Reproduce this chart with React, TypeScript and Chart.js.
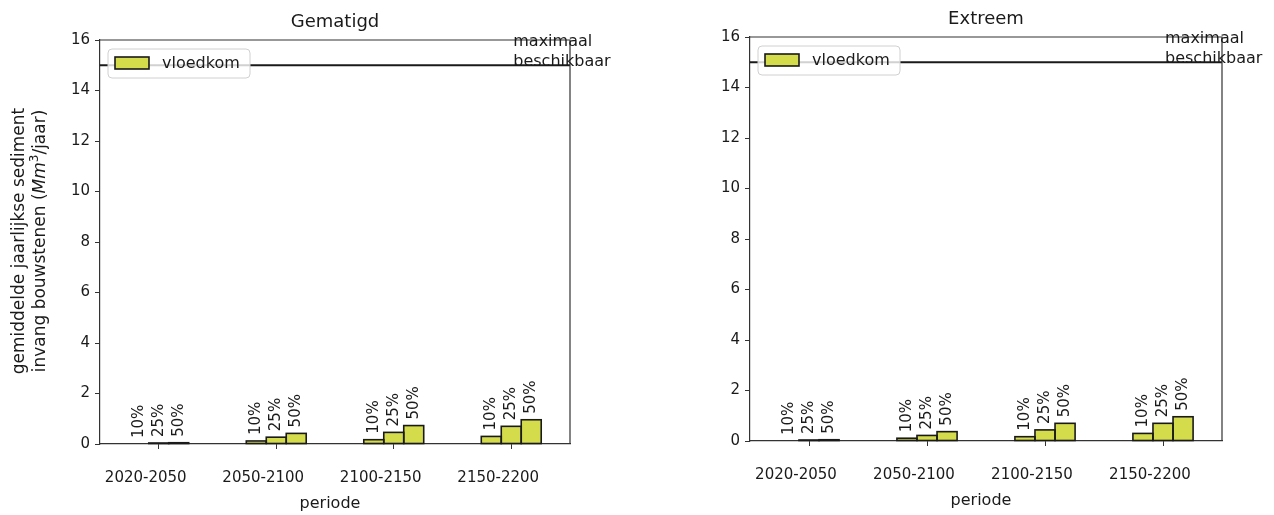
import React, { useEffect, useRef } from "react";
import { Chart, registerables } from "chart.js";

Chart.register(...registerables);

// ---- data ----
const categories = ["2020-2050", "2050-2100", "2100-2150", "2150-2200"];
const quantileLabels = ["10%", "25%", "50%"];
const gematigd10 = [0, 0.12, 0.17, 0.3];
const gematigd25 = [0.04, 0.27, 0.46, 0.7];
const gematigd50 = [0.05, 0.42, 0.73, 0.96];
const extreem10 = [0, 0.11, 0.17, 0.3];
const extreem25 = [0.04, 0.22, 0.44, 0.7];
const extreem50 = [0.05, 0.37, 0.7, 0.96];
const yMin = 0;
const yMax = 16;
const yStep = 2;
const maxAvailable = 15;
const maxLabelLines = ["maximaal", "beschikbaar"];
const legendLabel = "vloedkom";
const xTitle = "periode";
const titles = ["Gematigd", "Extreem"];
const yTitleLine1 = "gemiddelde jaarlijkse sediment";
const yTitleLine2Parts = ["invang bouwstenen (", "Mm", "3", "/jaar)"];

const FONT = "'DejaVu Sans', sans-serif";
const BAR_FILL = "#d5dc4b";
const INK = "#1a1a1a";

type PanelCfg = {
  title: string;
  series: number[][];
  canvasW: number;
  canvasH: number;
  yAxisW: number;
  xAxisH: number;
  padTop: number;
  padRight: number;
  showYTitle: boolean;
};

function makePlugin(cfg: PanelCfg) {
  return {
    id: "panelDecor",
    afterDatasetsDraw(chart: any) {
      const ctx = chart.ctx;
      const area = chart.chartArea;
      const yScale = chart.scales.y;
      chart.data.datasets.forEach((ds: any, di: number) => {
        const meta = chart.getDatasetMeta(di);
        meta.data.forEach((el: any) => {
          const p = el.getProps(["x", "y", "base", "width"], true);
          const top = Math.min(p.y, p.base);
          const h = Math.abs(p.base - p.y);
          ctx.save();
          if (h > 0.01) {
            ctx.strokeStyle = INK;
            ctx.lineWidth = 1.6;
            ctx.strokeRect(p.x - p.width / 2, top, p.width, h);
          }
          ctx.restore();
          ctx.save();
          ctx.fillStyle = INK;
          ctx.font = `15px ${FONT}`;
          ctx.translate(p.x, top - 6);
          ctx.rotate(-Math.PI / 2);
          ctx.textAlign = "left";
          ctx.textBaseline = "middle";
          ctx.fillText(ds.label, 0, 0);
          ctx.restore();
        });
      });
      const yl = yScale.getPixelForValue(maxAvailable);
      ctx.save();
      ctx.strokeStyle = INK;
      ctx.lineWidth = 2;
      ctx.beginPath();
      ctx.moveTo(area.left, yl);
      ctx.lineTo(area.right, yl);
      ctx.stroke();
      ctx.strokeStyle = "#333";
      ctx.lineWidth = 1.2;
      ctx.beginPath();
      ctx.moveTo(area.left, area.top);
      ctx.lineTo(area.right, area.top);
      ctx.lineTo(area.right, area.bottom);
      ctx.stroke();
      ctx.restore();
    },
    afterDraw(chart: any) {
      const ctx = chart.ctx;
      const area = chart.chartArea;
      const yScale = chart.scales.y;
      const xScale = chart.scales.x;
      const cx = (area.left + area.right) / 2;
      ctx.save();
      ctx.fillStyle = INK;
      ctx.font = `18px ${FONT}`;
      ctx.textAlign = "center";
      ctx.textBaseline = "alphabetic";
      ctx.fillText(cfg.title, cx, area.top - 13);
      ctx.font = `16px ${FONT}`;
      ctx.fillText(xTitle, cx - 5, area.bottom + 64);
      const yl = yScale.getPixelForValue(maxAvailable);
      const ax = xScale.getPixelForValue(categories.length - 1) + 2;
      ctx.font = `16px ${FONT}`;
      ctx.textAlign = "left";
      ctx.fillText(maxLabelLines[0], ax, yl - 19);
      ctx.fillText(maxLabelLines[1], ax, yl + 1);
      const lx = area.left + 8;
      const ly = area.top + 9;
      const lw = 142;
      const lh = 29;
      ctx.fillStyle = "rgba(255,255,255,0.8)";
      ctx.strokeStyle = "#d0d0d0";
      ctx.lineWidth = 1;
      ctx.beginPath();
      (ctx as any).roundRect(lx, ly, lw, lh, 4);
      ctx.fill();
      ctx.stroke();
      ctx.fillStyle = BAR_FILL;
      ctx.fillRect(lx + 7, ly + 8, 34, 12);
      ctx.strokeStyle = INK;
      ctx.lineWidth = 1.6;
      ctx.strokeRect(lx + 7, ly + 8, 34, 12);
      ctx.fillStyle = INK;
      ctx.font = `16px ${FONT}`;
      ctx.textBaseline = "middle";
      ctx.fillText(legendLabel, lx + 54, ly + 14.5);
      if (cfg.showYTitle) {
        const cy = (area.top + area.bottom) / 2 - 1;
        ctx.save();
        ctx.translate(20, cy);
        ctx.rotate(-Math.PI / 2);
        ctx.textAlign = "center";
        ctx.textBaseline = "middle";
        ctx.font = `17px ${FONT}`;
        ctx.fillText(yTitleLine1, 0, 0);
        ctx.restore();

        ctx.save();
        ctx.translate(41, cy);
        ctx.rotate(-Math.PI / 2);
        ctx.textBaseline = "middle";
        const normal = `17px ${FONT}`;
        const ital = `italic 17px ${FONT}`;
        const sup = `12px ${FONT}`;
        const parts = [
          { t: yTitleLine2Parts[0], f: normal, dy: 0 },
          { t: yTitleLine2Parts[1], f: ital, dy: 0 },
          { t: yTitleLine2Parts[2], f: sup, dy: -6 },
          { t: yTitleLine2Parts[3], f: normal, dy: 0 },
        ];
        let total = 0;
        parts.forEach((p) => {
          ctx.font = p.f;
          total += ctx.measureText(p.t).width;
        });
        let x = -total / 2;
        ctx.textAlign = "left";
        parts.forEach((p) => {
          ctx.font = p.f;
          ctx.fillText(p.t, x, p.dy);
          x += ctx.measureText(p.t).width;
        });
        ctx.restore();
      }
      ctx.restore();
    },
  };
}

function Panel({ cfg }: { cfg: PanelCfg }) {
  const ref = useRef<HTMLCanvasElement | null>(null);
  useEffect(() => {
    if (!ref.current) return;
    const chart = new Chart(ref.current, {
      type: "bar",
      data: {
        labels: categories,
        datasets: cfg.series.map((s, i) => ({
          label: quantileLabels[i],
          data: s,
          backgroundColor: BAR_FILL,
          borderWidth: 0,
          categoryPercentage: 0.51,
          barPercentage: 1,
        })),
      },
      options: {
        animation: false,
        responsive: false,
        maintainAspectRatio: false,
        layout: { padding: { top: cfg.padTop, right: cfg.padRight, left: 0, bottom: 0 } },
        plugins: {
          legend: { display: false },
          tooltip: { enabled: false },
          title: { display: false },
        },
        scales: {
          x: {
            offset: true,
            grid: {
              offset: false,
              drawOnChartArea: false,
              drawTicks: true,
              tickLength: 5,
              color: "#333",
            },
            border: { display: true, color: "#333", width: 1.2 },
            ticks: {
              font: { family: FONT, size: 15 },
              color: INK,
              padding: 20,
              labelOffset: -13,
              maxRotation: 0,
              autoSkip: false,
            },
            afterFit: (s: any) => {
              s.height = cfg.xAxisH;
            },
          },
          y: {
            min: yMin,
            max: yMax,
            grid: {
              drawOnChartArea: false,
              drawTicks: true,
              tickLength: 5,
              color: "#333",
            },
            border: { display: true, color: "#333", width: 1.2 },
            ticks: {
              stepSize: yStep,
              font: { family: FONT, size: 15 },
              color: INK,
              padding: 5,
            },
            afterFit: (s: any) => {
              s.width = cfg.yAxisW;
            },
          },
        },
      } as any,
      plugins: [makePlugin(cfg)],
    });
    return () => chart.destroy();
  }, [cfg]);
  return (
    <canvas
      ref={ref}
      width={cfg.canvasW}
      height={cfg.canvasH}
      style={{ width: cfg.canvasW, height: cfg.canvasH, display: "block" }}
    />
  );
}

const leftCfg: PanelCfg = {
  title: titles[0],
  series: [gematigd10, gematigd25, gematigd50],
  canvasW: 637,
  canvasH: 515,
  yAxisW: 100,
  xAxisH: 71,
  padTop: 40,
  padRight: 67,
  showYTitle: true,
};

const rightCfg: PanelCfg = {
  title: titles[1],
  series: [extreem10, extreem25, extreem50],
  canvasW: 637,
  canvasH: 515,
  yAxisW: 113,
  xAxisH: 74,
  padTop: 37,
  padRight: 52,
  showYTitle: false,
};

export default function App() {
  return (
    <div
      style={{
        position: "fixed",
        left: 0,
        top: 0,
        width: 1274,
        height: 515,
        background: "#fff",
        display: "flex",
        flexDirection: "row",
      }}
    >
      <Panel cfg={leftCfg} />
      <Panel cfg={rightCfg} />
    </div>
  );
}
